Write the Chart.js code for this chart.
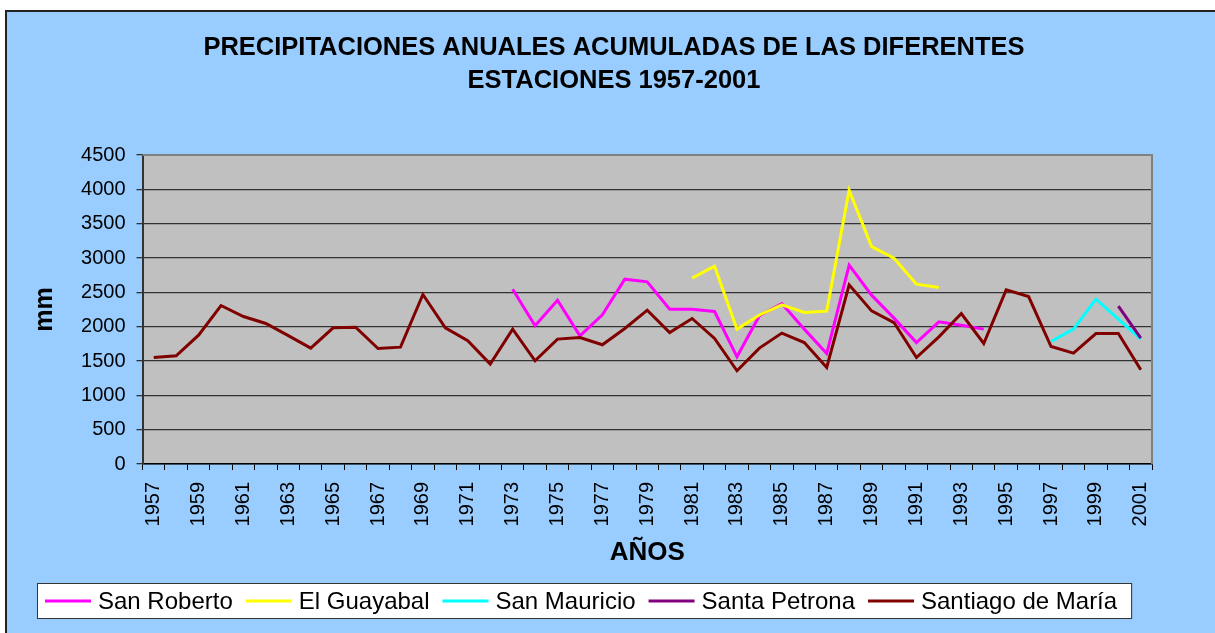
<!DOCTYPE html>
<html>
<head>
<meta charset="utf-8">
<title>Precipitaciones anuales acumuladas 1957-2001</title>
<script src="https://cdn.jsdelivr.net/npm/chart.js@4.4.1/dist/chart.umd.min.js"></script>
<style>
    html, body { margin: 0; padding: 0; background: #fff; }
    #frame {
        position: absolute; left: 5px; top: 10px;
        width: 1210px; height: 623px;
        background: #99ccff;
        border-left: 2px solid #222; border-top: 2px solid #222;
        box-sizing: border-box;
    }
    canvas { display: block; }
</style>
</head>
<body>
<div id="frame"><canvas id="lluviaChart" width="1208" height="621"></canvas></div>
<script>
// Data (mm per year)
const years = [];
for (let y = 1957; y <= 2001; y++) years.push(String(y));

const stationNames = ['San Roberto', 'El Guayabal', 'San Mauricio', 'Santa Petrona', 'Santiago de María'];
const stationColors = ['#ff00ff', '#ffff00', '#00ffff', '#800080', '#800000'];

// first year of each record
const sanRobertoStart = 1973;
const sanRoberto = [2546, 2012, 2386, 1867, 2172, 2692, 2653, 2255, 2255, 2221, 1561,
                    2160, 2337, 1964, 1609, 2895, 2459, 2124, 1769, 2070, 2022, 1964];
const elGuayabalStart = 1981;
const elGuayabal = [2706, 2881, 1964, 2170, 2318, 2206, 2226, 3987, 3166, 2997, 2619, 2570];
const sanMauricioStart = 1997;
const sanMauricio = [1784, 1964, 2401, 2110, 1819];
const santaPetronaStart = 2000;
const santaPetrona = [2299, 1833];
const santiagoStart = 1957;
const santiago = [1551, 1576, 1877, 2308, 2148, 2046, 1870, 1688, 1983, 1993, 1682, 1702,
                  2468, 1983, 1794, 1455, 1964, 1503, 1819, 1842, 1736, 1973, 2240, 1915,
                  2119, 1828, 1358, 1688, 1906, 1769, 1406, 2609, 2230, 2060, 1551, 1852,
                  2191, 1755, 2536, 2439, 1711, 1615, 1900, 1900, 1372];

const yTicks = [0, 500, 1000, 1500, 2000, 2500, 3000, 3500, 4000, 4500];

// place a station record on the full 1957-2001 axis
function onYears(values, start) {
    return years.map(y => {
        const i = Number(y) - start;
        return (i >= 0 && i < values.length) ? values[i] : null;
    });
}

const series = [
    onYears(sanRoberto, sanRobertoStart),
    onYears(elGuayabal, elGuayabalStart),
    onYears(sanMauricio, sanMauricioStart),
    onYears(santaPetrona, santaPetronaStart),
    onYears(santiago, santiagoStart)
];

const FONT = "'Liberation Sans', Arial, sans-serif";
Chart.defaults.font.family = FONT;
Chart.defaults.color = '#000';

// gray plot area with the gray frame on top/right
const plotArea = {
    id: 'plotArea',
    afterLayout(chart) {
        // center the title on the whole frame, not on the padded area
        if (chart.titleBlock) {
            chart.titleBlock.left = 0;
            chart.titleBlock.right = 1214;
        }
    },
    beforeDraw(chart) {
        const { ctx, chartArea: a } = chart;
        ctx.save();
        ctx.fillStyle = '#c0c0c0';
        ctx.fillRect(a.left, a.top, a.right - a.left, a.bottom - a.top);
        ctx.restore();
    },
    beforeDatasetsDraw(chart) {
        const { ctx, chartArea: a } = chart;
        ctx.save();
        ctx.strokeStyle = '#808080';
        ctx.lineWidth = 2;
        ctx.beginPath();
        ctx.moveTo(a.left, a.top);
        ctx.lineTo(a.right, a.top);
        ctx.lineTo(a.right, a.bottom);
        ctx.stroke();
        ctx.restore();
    }
};

// boxed legend under the axis title
const boxLegend = {
    id: 'boxLegend',
    afterDraw(chart) {
        const ctx = chart.ctx;
        const ds = chart.data.datasets;
        const lineLen = 46, gapText = 7, gapItem = 13;
        const startX = 38, midY = 589;
        ctx.save();
        ctx.font = '24px ' + FONT;
        let x = startX;
        const items = ds.map(d => {
            const w = ctx.measureText(d.label).width;
            const item = { x, w, d };
            x += lineLen + gapText + w + gapItem;
            return item;
        });
        const boxRight = x - gapItem + 14;
        ctx.fillStyle = '#fff';
        ctx.fillRect(startX - 8, 571, boxRight - (startX - 8), 35);
        ctx.strokeStyle = '#333';
        ctx.lineWidth = 1;
        ctx.strokeRect(startX - 8 + 0.5, 571.5, boxRight - (startX - 8), 35);
        items.forEach(it => {
            ctx.strokeStyle = it.d.borderColor;
            ctx.lineWidth = 3;
            ctx.beginPath();
            ctx.moveTo(it.x, midY);
            ctx.lineTo(it.x + lineLen, midY);
            ctx.stroke();
            ctx.fillStyle = '#000';
            ctx.textBaseline = 'middle';
            ctx.textAlign = 'left';
            ctx.fillText(it.d.label, it.x + lineLen + gapText, midY + 1);
        });
        ctx.restore();
    }
};

new Chart(document.getElementById('lluviaChart'), {
    type: 'line',
    data: {
        labels: years,
        datasets: stationNames.map((name, i) => ({
            label: name,
            data: series[i],
            borderColor: stationColors[i],
            backgroundColor: stationColors[i],
            borderWidth: 3,
            pointRadius: 0,
            tension: 0,
            spanGaps: false,
            order: stationNames.length - i
        }))
    },
    options: {
        responsive: false,
        animation: false,
        layout: { padding: { left: 10, right: 63, top: 0, bottom: 61 } },
        plugins: {
            legend: { display: false },
            tooltip: { enabled: false },
            title: {
                display: true,
                text: ['PRECIPITACIONES ANUALES ACUMULADAS DE LAS DIFERENTES', 'ESTACIONES 1957-2001'],
                font: { size: 25.5, weight: 'bold', lineHeight: 1.3 },
                color: '#000',
                padding: { top: 19.5, bottom: 57.2 }
            }
        },
        scales: {
            x: {
                offset: true,
                grid: { display: true, drawOnChartArea: false, drawTicks: true, tickLength: 6, offset: true, color: '#000' },
                border: { display: true, color: '#000', width: 1.5 },
                ticks: {
                    autoSkip: false,
                    minRotation: 90,
                    maxRotation: 90,
                    padding: 12,
                    font: { size: 20 },
                    callback: function(value, index) {
                        return index % 2 === 0 ? this.getLabelForValue(value) : '';
                    }
                },
                title: { display: true, text: 'AÑOS', font: { size: 26, weight: 'bold' }, padding: { top: 0, bottom: 4 } },
                afterFit: scale => { scale.height = 108; }
            },
            y: {
                min: 0,
                max: 4500,
                afterBuildTicks: scale => { scale.ticks = yTicks.map(v => ({ value: v })); },
                grid: { color: '#333', lineWidth: 1.3, tickLength: 6, drawTicks: true },
                border: { display: true, color: '#333', width: 2 },
                ticks: { padding: 11, font: { size: 20 }, callback: value => String(value) },
                title: { display: true, text: 'mm', font: { size: 25, weight: 'bold' }, padding: { top: 13, bottom: 0 } },
                afterFit: scale => { scale.width = 125.5; }
            }
        }
    },
    plugins: [plotArea, boxLegend]
});
</script>
</body>
</html>
